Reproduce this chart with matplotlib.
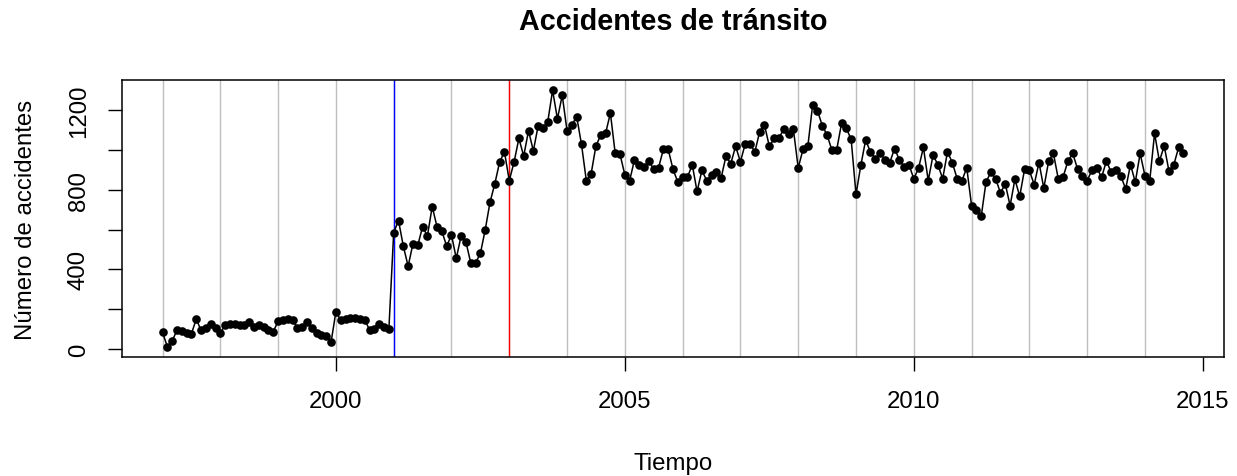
import numpy as np
import matplotlib.pyplot as plt

# monthly traffic accidents, Jan 1997 - Sep 2014
y1997 = [84, 12, 40, 96, 90, 80, 78, 150, 95, 105, 128, 105]
y1998 = [80, 122, 128, 125, 122, 120, 135, 110, 122, 112, 95, 88]
y1999 = [140, 148, 150, 145, 108, 112, 135, 105, 80, 72, 65, 35]
y2000 = [188, 145, 152, 155, 158, 150, 148, 95, 102, 125, 112, 100]
y2001 = [585, 645, 517, 416, 529, 521, 614, 568, 715, 614, 592, 517]
y2002 = [573, 455, 568, 538, 433, 433, 480, 598, 737, 830, 939, 990]
y2003 = [846, 939, 1057, 969, 1096, 995, 1121, 1108, 1142, 1299, 1155, 1274]
y2004 = [1095, 1125, 1167, 1027, 846, 880, 1020, 1074, 1083, 1184, 982, 977]
y2005 = [875, 846, 950, 925, 913, 942, 903, 910, 1003, 1003, 903, 838]
y2006 = [863, 863, 925, 791, 897, 846, 872, 889, 860, 968, 931, 1018]
y2007 = [940, 1030, 1030, 990, 1091, 1125, 1018, 1057, 1060, 1103, 1078, 1103]
y2008 = [909, 1003, 1018, 1226, 1197, 1121, 1074, 998, 1001, 1133, 1108, 1052]
y2009 = [776, 922, 1049, 990, 956, 986, 951, 935, 1006, 951, 914, 925]
y2010 = [855, 909, 1012, 846, 973, 926, 855, 990, 936, 855, 846, 910]
y2011 = [720, 700, 666, 838, 888, 855, 784, 829, 720, 852, 767, 902]
y2012 = [897, 825, 936, 808, 943, 982, 855, 863, 943, 982, 905, 871]
y2013 = [846, 897, 909, 863, 943, 888, 897, 868, 804, 926, 838, 982]
y2014 = [871, 846, 1083, 943, 1020, 892, 926, 1012, 982]

accidentes = np.array(y1997 + y1998 + y1999 + y2000 + y2001 + y2002 + y2003 + y2004
                      + y2005 + y2006 + y2007 + y2008 + y2009 + y2010 + y2011 + y2012
                      + y2013 + y2014)
start_year = 1997
tiempo = start_year + np.arange(len(accidentes)) / 12

year_lines = list(range(1997, 2015))
blue_year = 2001
red_year = 2003
x_ticks = [2000, 2005, 2010, 2015]
y_ticks = [0, 200, 400, 600, 800, 1000, 1200]
y_labels = ['0', '', '400', '', '800', '', '1200']

plt.rcParams['font.family'] = ['Liberation Sans', 'DejaVu Sans']

W, H = 1237, 477
fig = plt.figure(figsize=(W / 100, H / 100), dpi=100)
left, right, top, bottom = 121.7, 1224.3, 81, 358
ax = fig.add_axes([left / W, 1 - bottom / H, (right - left) / W, (bottom - top) / H])

for yr in year_lines:
    ax.axvline(yr, color='#BEBEBE', lw=1.0, zorder=1)
ax.axvline(blue_year, color='#0000FF', lw=1.0, zorder=1.5)
ax.axvline(red_year, color='#FF0000', lw=1.0, zorder=1.5)

ax.plot(tiempo, accidentes, color='black', lw=1.1, marker='o', markersize=6.2,
        markeredgewidth=0, zorder=3)

# R style 4% padding
xr = tiempo.max() - tiempo.min()
yr_ = accidentes.max() - accidentes.min()
ax.set_xlim(tiempo.min() - 0.04 * xr, tiempo.max() + 0.04 * xr)
ax.set_ylim(accidentes.min() - 0.04 * yr_, accidentes.max() + 0.04 * yr_)

ax.set_xticks(x_ticks)
ax.set_xticklabels([str(t) for t in x_ticks])
ax.set_yticks(y_ticks)
ax.set_yticklabels(y_labels, rotation=90, va='center')
ax.tick_params(axis='both', direction='out', length=10, width=1.0, labelsize=17.3,
               colors='black')
ax.tick_params(axis='x', pad=14)
ax.tick_params(axis='y', pad=13)
for s in ax.spines.values():
    s.set_linewidth(1.1)
    s.set_color('black')

fig.text((left + right) / 2 / W, 1 - 22 / H, 'Accidentes de tránsito',
         fontsize=20.7, fontweight='bold', ha='center', va='center')
ax.set_xlabel('Tiempo', fontsize=17.3)
ax.xaxis.set_label_coords(0.5, (bottom - 464) / (bottom - top))
ax.xaxis.label.set_va('center')
ax.set_ylabel('Número de accidentes', fontsize=17.3)
ax.yaxis.set_label_coords((26 - left) / (right - left), 0.5)
ax.yaxis.label.set_va('center')

fig.savefig('out.png', dpi=100)
